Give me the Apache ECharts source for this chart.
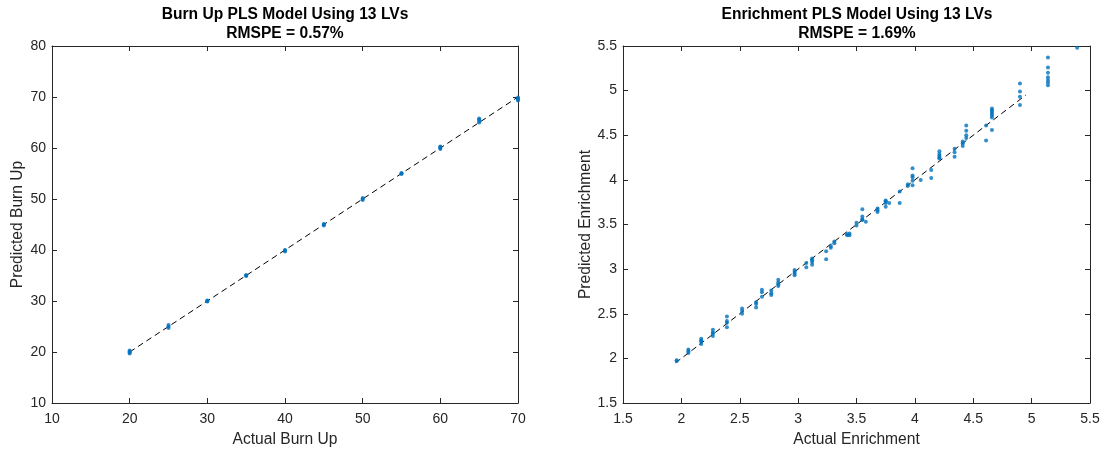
<!DOCTYPE html>
<html>
<head>
<meta charset="utf-8">
<script src="https://cdn.jsdelivr.net/npm/echarts@6/dist/echarts.min.js"></script>
<style>
  html, body { margin: 0; padding: 0; background: #ffffff; }
  #chart { width: 1104px; height: 453px; }
</style>
</head>
<body>
<div id="chart"></div>
<script>
// Burn-up model: actual vs predicted (GWd/MTU)
const burnupActual = [
  20, 20, 20, 20,
  25, 25, 25,
  30, 30, 30,
  35, 35, 35,
  40, 40, 40,
  45, 45, 45,
  50, 50, 50,
  55, 55, 55,
  60, 60, 60, 60,
  65, 65, 65, 65,
  70, 70, 70, 70
];
const burnupPredicted = [
  19.7, 19.9, 20.1, 20.3,
  24.7, 25.0, 25.3,
  29.9, 30.0, 30.1,
  34.9, 35.0, 35.1,
  39.7, 39.9, 40.0,
  44.8, 45.0, 45.1,
  49.8, 50.0, 50.2,
  54.9, 55.0, 55.1,
  59.8, 60.0, 60.2, 60.3,
  65.0, 65.3, 65.6, 65.8,
  69.3, 69.5, 69.7, 69.9
];
const burnupRefLine = [20, 70];

// Enrichment model: actual vs predicted (wt%)
const enrichActual = [
  1.96, 1.96,
  2.06, 2.06, 2.06,
  2.17, 2.17, 2.17, 2.17,
  2.27, 2.27, 2.27, 2.27,
  2.39, 2.39, 2.39, 2.39,
  2.52, 2.52, 2.52,
  2.64, 2.64, 2.64,
  2.69, 2.69, 2.69,
  2.77, 2.77, 2.77,
  2.83, 2.83, 2.83, 2.83,
  2.97, 2.97, 2.97, 2.97,
  3.07, 3.07,
  3.12, 3.12, 3.12, 3.12,
  3.24, 3.24,
  3.28, 3.28,
  3.31, 3.31,
  3.42, 3.42,
  3.44, 3.44,
  3.50, 3.50,
  3.55, 3.55, 3.55, 3.55,
  3.58,
  3.68, 3.68, 3.68,
  3.75, 3.75, 3.75, 3.75,
  3.78,
  3.87, 3.87,
  3.94, 3.94,
  3.98, 3.98, 3.98, 3.98, 3.98,
  4.05,
  4.14, 4.14,
  4.21, 4.21, 4.21, 4.21, 4.21,
  4.34, 4.34, 4.34,
  4.41, 4.41, 4.41,
  4.44, 4.44, 4.44, 4.44,
  4.61, 4.61,
  4.66, 4.66, 4.66, 4.66, 4.66, 4.66, 4.66,
  4.90, 4.90, 4.90, 4.90,
  5.14, 5.14, 5.14, 5.14, 5.14, 5.14, 5.14,
  5.39
];
const enrichPredicted = [
  1.97, 1.98,
  2.06, 2.08, 2.10,
  2.16, 2.19, 2.20, 2.22,
  2.25, 2.28, 2.29, 2.32,
  2.35, 2.40, 2.42, 2.47,
  2.50, 2.53, 2.56,
  2.57, 2.61, 2.63,
  2.69, 2.74, 2.77,
  2.71, 2.73, 2.76,
  2.81, 2.83, 2.85, 2.88,
  2.93, 2.95, 2.97, 2.99,
  3.02, 3.07,
  3.05, 3.08, 3.10, 3.12,
  3.11, 3.20,
  3.24, 3.26,
  3.29, 3.31,
  3.38, 3.39,
  3.38, 3.40,
  3.49, 3.52,
  3.55, 3.56, 3.59, 3.67,
  3.53,
  3.64, 3.66, 3.68,
  3.70, 3.74, 3.76, 3.77,
  3.74,
  3.74, 3.87,
  3.93, 3.95,
  3.94, 3.99, 4.03, 4.05, 4.13,
  4.00,
  4.02, 4.11,
  4.24, 4.25, 4.27, 4.29, 4.32,
  4.26, 4.31, 4.35,
  4.38, 4.41, 4.43,
  4.47, 4.50, 4.55, 4.61,
  4.44, 4.61,
  4.56, 4.70, 4.72, 4.74, 4.76, 4.78, 4.80,
  4.84, 4.93, 4.99, 5.08,
  5.06, 5.09, 5.12, 5.15, 5.20, 5.26, 5.37,
  5.48
];
const enrichRefLine = [1.95, 4.95];

// Axis ranges and tick spacing
const burnupTicks = { min: 10, max: 70, interval: 10 };
const burnupYTicks = { min: 10, max: 80, interval: 10 };
const enrichTicks = { min: 1.5, max: 5.5, interval: 0.5 };

const FONT = '"Liberation Sans", Arial, Helvetica, sans-serif';
const AXIS_COLOR = '#262626';
const MARK_COLOR = '#0072BD';
const TICK_FONT = 14;
const LABEL_FONT = 15.6;

function pairs(xs, ys) {
  return xs.map((x, i) => [x, ys[i]]);
}

function numLabel(v) {
  return String(Math.round(v * 10) / 10);
}

function makeAxisPair(kind, gridIndex, range, name, nameGap) {
  const isX = kind === 'x';
  const common = {
    type: 'value',
    gridIndex: gridIndex,
    min: range.min,
    max: range.max,
    interval: range.interval,
    splitLine: { show: false },
    axisLine: { show: true, onZero: false, lineStyle: { color: AXIS_COLOR, width: 1 } },
    axisTick: { show: true, inside: true, length: 5, lineStyle: { color: AXIS_COLOR, width: 1 } }
  };
  const main = Object.assign({}, common, {
    position: isX ? 'bottom' : 'left',
    name: name,
    nameLocation: 'middle',
    nameGap: nameGap,
    nameTextStyle: { fontFamily: FONT, fontSize: LABEL_FONT, color: AXIS_COLOR },
    axisLabel: {
      show: true, fontFamily: FONT, fontSize: TICK_FONT, color: AXIS_COLOR,
      margin: isX ? 9 : 6, formatter: numLabel
    }
  });
  const mirror = Object.assign({}, common, {
    position: isX ? 'top' : 'right',
    axisLabel: { show: false }
  });
  return [main, mirror];
}

const chart = echarts.init(document.getElementById('chart'), null, { renderer: 'canvas' });

const xAxes = [
  ...makeAxisPair('x', 0, burnupTicks, 'Actual Burn Up', 29),
  ...makeAxisPair('x', 1, enrichTicks, 'Actual Enrichment', 29)
];
const yAxes = [
  ...makeAxisPair('y', 0, burnupYTicks, 'Predicted Burn Up', 26),
  ...makeAxisPair('y', 1, enrichTicks, 'Predicted Enrichment', 29)
];

const titleStyle = {
  fontFamily: FONT, fontSize: LABEL_FONT, fontWeight: 'bold', color: '#000000', lineHeight: 19
};

const option = {
  backgroundColor: '#ffffff',
  animation: false,
  title: [
    {
      text: 'Burn Up PLS Model Using 13 LVs\nRMSPE = 0.57%',
      left: 285, top: 5, padding: 0, textAlign: 'center',
      textStyle: titleStyle
    },
    {
      text: 'Enrichment PLS Model Using 13 LVs\nRMSPE = 1.69%',
      left: 857, top: 5, padding: 0, textAlign: 'center',
      textStyle: titleStyle
    }
  ],
  grid: [
    { left: 52, top: 46, width: 466, height: 357, containLabel: false },
    { left: 623, top: 46, width: 467, height: 357, containLabel: false }
  ],
  xAxis: xAxes,
  yAxis: yAxes,
  series: [
    {
      type: 'line',
      xAxisIndex: 0, yAxisIndex: 0,
      data: pairs(burnupRefLine, burnupRefLine),
      symbol: 'none',
      lineStyle: { color: '#000000', width: 1, type: [6, 4] },
      z: 1
    },
    {
      type: 'scatter',
      xAxisIndex: 0, yAxisIndex: 0,
      data: pairs(burnupActual, burnupPredicted),
      symbol: 'circle', symbolSize: 4,
      itemStyle: { color: MARK_COLOR },
      z: 2
    },
    {
      type: 'line',
      xAxisIndex: 2, yAxisIndex: 2,
      data: pairs(enrichRefLine, enrichRefLine),
      symbol: 'none',
      lineStyle: { color: '#000000', width: 1, type: [6, 4] },
      z: 1
    },
    {
      type: 'scatter',
      xAxisIndex: 2, yAxisIndex: 2,
      data: pairs(enrichActual, enrichPredicted),
      symbol: 'circle', symbolSize: 4,
      itemStyle: { color: MARK_COLOR },
      z: 2
    }
  ]
};

chart.setOption(option);
</script>
</body>
</html>
